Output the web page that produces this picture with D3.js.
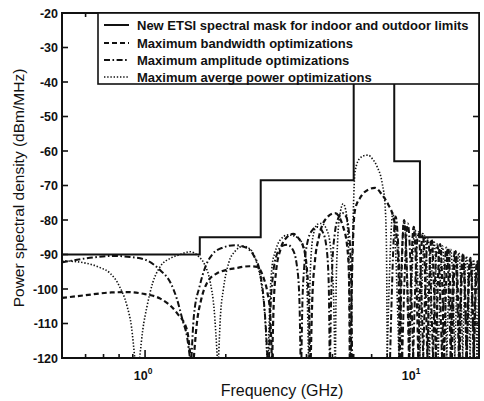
<!DOCTYPE html>
<html><head><meta charset="utf-8">
<script src="https://cdn.jsdelivr.net/npm/d3@7"></script>
<style>
body{margin:0;background:#fff;}
svg{display:block;}
text{font-family:"Liberation Sans",Arial,sans-serif;fill:#111;}
</style></head>
<body>
<svg id="c" width="484" height="401"></svg>
<script>
// ---------- DATA ----------
const yTicks = [-20,-30,-40,-50,-60,-70,-80,-90,-100,-110,-120];
const xMajor = [1, 10];
const xMajorLabels = ["0", "1"];
const xMinor = [0.6,0.7,0.8,0.9,2,3,4,5,6,7,8,9];

// ETSI mask: band edges (GHz) and levels (dBm/MHz)
const maskEdges = [0.49, 1.6, 2.7, 6.0, 8.5, 10.6, 17.6];
const maskLevels = [-90, -85, -68.5, -40, -63, -85];

// Maximum bandwidth optimizations (dashed): main lobes
const bandwidthLobes = [
 [[0.49,-102.6],[0.6,-101.8],[0.75,-101],[0.86,-100.9],[1.0,-101.5],[1.14,-102.8],[1.316,-107],[1.435,-112],[1.47,-118],[1.48,-120]],
 [[1.52,-120],[1.56,-110],[1.62,-103],[1.7,-98.3],[1.85,-95.5],[2.2,-93.9],[2.45,-93.4],[2.62,-93.6],[2.76,-96.5],[2.86,-101],[2.92,-106],[2.97,-120]],
 [[2.98,-120],[3.02,-104],[3.08,-95],[3.2,-88.5],[3.38,-85],[3.57,-84],[3.75,-85.5],[3.88,-87.5],[4.0,-93],[4.08,-104],[4.12,-120]],
 [[4.15,-120],[4.2,-104],[4.3,-92],[4.45,-85],[4.69,-80],[5.11,-78],[5.48,-82],[5.67,-87.5],[5.76,-96],[5.8,-120]],
 [[5.85,-120],[5.9,-100],[5.97,-85],[6.07,-77],[6.35,-73.5],[6.8,-71.2],[7.2,-70.7],[7.67,-72.8],[8.07,-75.5],[8.42,-79],[8.65,-84],[8.82,-95],[8.9,-120]]
];
const bandwidthNulls = [8.9, 9.65, 10.45, 11.3, 12.15, 13.05, 13.95, 14.9, 15.85, 16.85, 17.85];
const bandwidthPeaks = [[9.25,-80],[10.05,-82],[10.85,-84],[11.7,-85.5],[12.6,-87],[13.5,-88],[14.4,-89],[15.35,-90],[16.35,-91],[17.35,-92]];

// Maximum amplitude optimizations (dash-dot)
const amplitudeLobes = [
 [[0.49,-92.3],[0.55,-91.6],[0.65,-90.8],[0.75,-90.4],[0.88,-90.7],[1.0,-91.5],[1.137,-94.5],[1.25,-98.5],[1.316,-103],[1.38,-109],[1.435,-114],[1.47,-120]],
 [[1.49,-120],[1.52,-108],[1.6,-99],[1.68,-93.5],[1.78,-90],[1.95,-88],[2.17,-87.3],[2.38,-88],[2.55,-90.5],[2.68,-95],[2.77,-103],[2.82,-111],[2.86,-120]],
 [[2.9,-120],[2.94,-105],[3.0,-96],[3.1,-90],[3.25,-87.5],[3.4,-87.2],[3.55,-88.5],[3.68,-93],[3.76,-102],[3.8,-120]],
 [[3.83,-120],[3.86,-105],[3.92,-94],[4.02,-87],[4.2,-83],[4.4,-82],[4.6,-83.5],[4.75,-88],[4.84,-98],[4.88,-120]],
 [[4.9,-120],[4.94,-104],[5.0,-92],[5.1,-84],[5.25,-79.5],[5.45,-78],[5.62,-79],[5.75,-83],[5.85,-92],[5.92,-120]]
];
const amplitudeNulls = [8.2, 9.1, 10.0, 10.9, 11.85, 12.8, 13.8, 14.8, 15.8, 16.8, 17.8];
const amplitudePeaks = [[8.6,-79],[9.55,-81],[10.45,-83.5],[11.35,-85.5],[12.3,-87],[13.3,-88],[14.3,-89],[15.3,-90],[16.3,-91],[17.3,-92]];

// Maximum average power optimizations (dotted)
const powerLobes = [
 [[0.49,-91.8],[0.6,-92.5],[0.68,-93.8],[0.74,-95.4],[0.8,-99],[0.857,-105],[0.89,-111],[0.915,-120]],
 [[0.955,-120],[0.98,-112],[1.017,-105],[1.07,-98],[1.137,-93.6],[1.25,-91],[1.35,-90],[1.47,-89.2],[1.58,-90.5],[1.67,-93],[1.75,-98],[1.81,-106],[1.86,-120]],
 [[1.88,-120],[1.91,-108],[1.96,-100],[2.05,-92.5],[2.17,-89],[2.32,-87.6],[2.47,-88.5],[2.6,-92],[2.72,-99],[2.8,-108],[2.85,-120]],
 [[2.88,-120],[2.92,-104],[2.98,-93],[3.05,-89.5],[3.19,-85.8],[3.42,-84.3],[3.72,-85.2],[3.95,-89.3],[4.02,-100],[4.07,-120]],
 [[4.09,-120],[4.11,-104],[4.15,-92],[4.25,-84],[4.4,-81.2],[4.55,-81],[4.77,-83],[4.92,-88],[5.0,-95],[5.06,-105],[5.1,-120]],
 [[5.13,-120],[5.16,-100],[5.22,-87],[5.32,-79],[5.48,-75.3],[5.6,-77],[5.7,-83],[5.77,-95],[5.82,-120]],
 [[5.86,-120],[5.9,-100],[5.95,-85],[6.07,-66],[6.3,-62.3],[6.6,-61.3],[6.79,-61.2],[7.05,-62.3],[7.33,-64.5],[7.67,-69.5],[7.86,-76],[7.95,-88],[8.0,-120]]
];
const powerNulls = [8.0, 8.85, 9.7, 10.6, 11.5, 12.4, 13.35, 14.3, 15.3, 16.3, 17.3, 18.3];
const powerPeaks = [[8.4,-78],[9.25,-80.5],[10.15,-82.5],[11.05,-84.5],[11.95,-86],[12.85,-87.5],[13.8,-88.5],[14.8,-89.5],[15.8,-90.5],[16.8,-91.5],[17.8,-92]];

const legendLabels = [
 "New ETSI spectral mask for indoor and outdoor limits",
 "Maximum bandwidth optimizations",
 "Maximum amplitude optimizations",
 "Maximum averge power optimizations"
];

// ---------- LAYOUT ----------
const L=62, R=479, T=13, B=358;
const svg = d3.select("#c");
const x = d3.scaleLog().domain([0.49, 17.6]).range([L, R]);
const y = d3.scaleLinear().domain([-120, -20]).range([B, T]);

svg.append("defs").append("clipPath").attr("id","clip")
  .append("rect").attr("x",L).attr("y",T).attr("width",R-L).attr("height",B-T);

const line = d3.line().x(d=>x(d[0])).y(d=>y(d[1])).curve(d3.curveMonotoneX);

function lobesFrom(nulls, peaks){
  return peaks.map((p,i)=>[[nulls[i],-120],p,[nulls[i+1],-120]]);
}

const styles = {
  bandwidth: {dash:"5,3", w:2.2},
  amplitude: {dash:"6,2.5,1.6,2.5", w:2.0},
  power: {dash:"1.4,1.8", w:1.6}
};

const g = svg.append("g").attr("clip-path","url(#clip)");
function drawSeries(lobes, st){
  g.append("g").selectAll("path").data(lobes).join("path")
    .attr("d", line).attr("fill","none").attr("stroke","#111")
    .attr("stroke-width", st.w).attr("stroke-dasharray", st.dash);
}
drawSeries(bandwidthLobes.concat(lobesFrom(bandwidthNulls,bandwidthPeaks)), styles.bandwidth);
drawSeries(amplitudeLobes.concat(lobesFrom(amplitudeNulls,amplitudePeaks)), styles.amplitude);
drawSeries(powerLobes.concat(lobesFrom(powerNulls,powerPeaks)), styles.power);

// mask (step)
const maskPts = [];
maskLevels.forEach((lv,i)=>{ maskPts.push([maskEdges[i],lv]); maskPts.push([maskEdges[i+1],lv]); });
g.append("path").attr("d", d3.line().x(d=>x(d[0])).y(d=>y(d[1]))(maskPts))
  .attr("fill","none").attr("stroke","#111").attr("stroke-width",2);

// ---------- AXES ----------
const ax = svg.append("g").attr("stroke","#111");
ax.append("rect").attr("x",L).attr("y",T).attr("width",R-L).attr("height",B-T)
  .attr("fill","none").attr("stroke-width",2);
yTicks.forEach(t=>{
  ax.append("line").attr("x1",L).attr("x2",L+6).attr("y1",y(t)).attr("y2",y(t)).attr("stroke-width",1.6);
  ax.append("line").attr("x1",R-6).attr("x2",R).attr("y1",y(t)).attr("y2",y(t)).attr("stroke-width",1.6);
});
xMinor.forEach(t=>{
  ax.append("line").attr("x1",x(t)).attr("x2",x(t)).attr("y1",B).attr("y2",B-4).attr("stroke-width",1.6);
  ax.append("line").attr("x1",x(t)).attr("x2",x(t)).attr("y1",T).attr("y2",T+4).attr("stroke-width",1.6);
});
xMajor.forEach(t=>{
  ax.append("line").attr("x1",x(t)).attr("x2",x(t)).attr("y1",B).attr("y2",B-8).attr("stroke-width",1.6);
  ax.append("line").attr("x1",x(t)).attr("x2",x(t)).attr("y1",T).attr("y2",T+8).attr("stroke-width",1.6);
});

// tick labels
svg.append("g").selectAll("text").data(yTicks).join("text")
  .attr("x", L-4).attr("y", d=>y(d)+4.5).attr("text-anchor","end")
  .attr("font-size",12.5).attr("font-weight","bold").text(d=>"-"+Math.abs(d));
xMajor.forEach((t,i)=>{
  const tx = svg.append("text").attr("x",x(t)-2).attr("y",B+22).attr("text-anchor","middle")
    .attr("font-size",12.5).attr("font-weight","bold");
  tx.append("tspan").text("10");
  tx.append("tspan").attr("dy",-6).attr("font-size",8.5).text(xMajorLabels[i]);
});

// axis titles
svg.append("text").attr("x",282).attr("y",396).attr("text-anchor","middle")
  .attr("font-size",16).text("Frequency (GHz)");
svg.append("text").attr("transform","translate(24,188) rotate(-90)").attr("text-anchor","middle")
  .attr("font-size",15.5).text("Power spectral density (dBm/MHz)");

// ---------- LEGEND ----------
const lg = svg.append("g");
lg.append("rect").attr("x",98).attr("y",T).attr("width",R-98).attr("height",71)
  .attr("fill","#fff").attr("stroke","#111").attr("stroke-width",1.6);
const legStyles = [{dash:null,w:2},styles.bandwidth,styles.amplitude,styles.power];
const rowsY = [25, 43, 60, 77];
legendLabels.forEach((lab,i)=>{
  lg.append("line").attr("x1",104).attr("x2",129).attr("y1",rowsY[i]).attr("y2",rowsY[i])
    .attr("stroke","#111").attr("stroke-width",legStyles[i].w)
    .attr("stroke-dasharray",legStyles[i].dash);
  lg.append("text").attr("x",137).attr("y",rowsY[i]+4.5).attr("font-size",13)
    .attr("font-weight","bold").text(lab);
});
</script>
</body></html>
